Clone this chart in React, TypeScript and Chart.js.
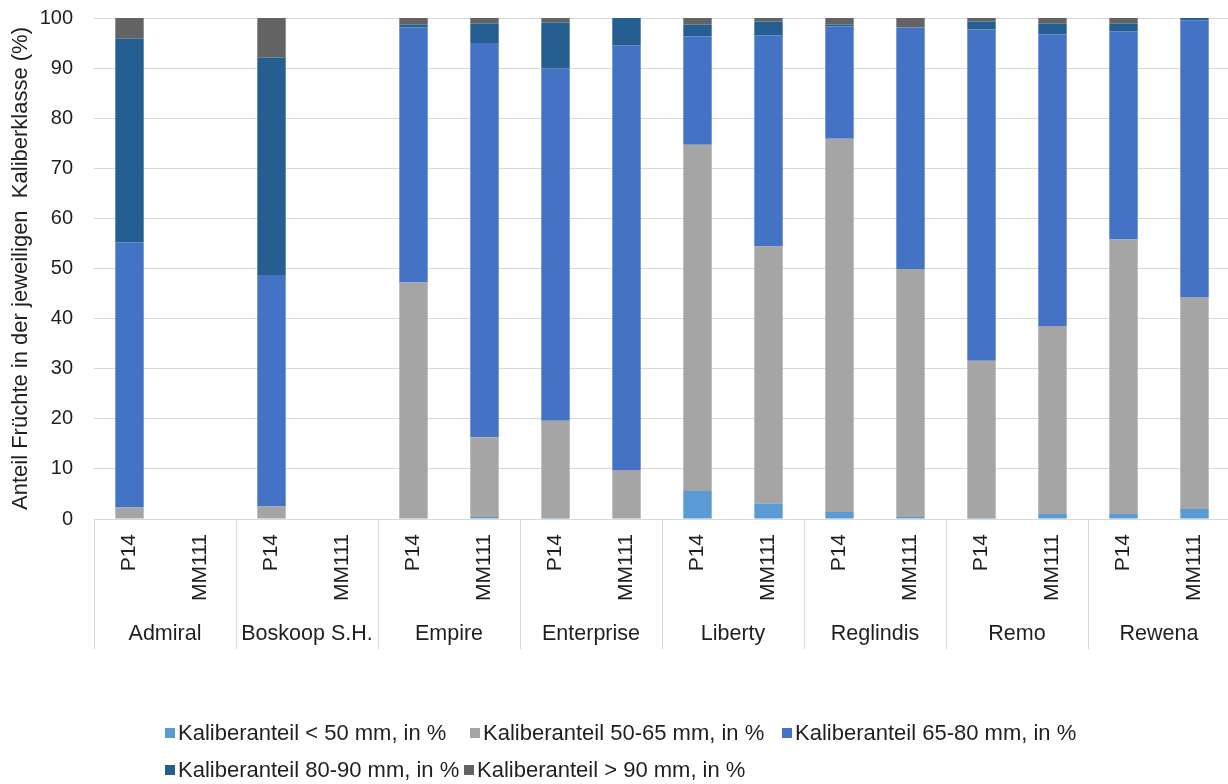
import React, { useEffect, useRef } from "react";
import { Chart, registerables } from "chart.js";

Chart.register(...registerables);

// ---- data ----
const varieties = ["Admiral", "Boskoop S.H.", "Empire", "Enterprise", "Liberty", "Reglindis", "Remo", "Rewena"];
const rootstocks = ["P14", "MM111"];
const categories = varieties.flatMap(() => rootstocks);

const seriesNames = [
  "Kaliberanteil < 50 mm, in %",
  "Kaliberanteil 50-65 mm, in %",
  "Kaliberanteil 65-80 mm, in %",
  "Kaliberanteil 80-90 mm, in %",
  "Kaliberanteil > 90 mm, in %",
];
const seriesColors = ["#5B9BD5", "#A5A5A5", "#4472C4", "#255E91", "#636363"];

// order: Admiral P14, Admiral MM111, Boskoop P14, Boskoop MM111, Empire P14, ...
const below50 = [0, null, 0, null, 0, 0.4, 0.2, 0, 5.6, 3.1, 1.4, 0.4, 0.2, 1.0, 1.0, 2.0];
const from50to65 = [2.3, null, 2.5, null, 47.2, 15.9, 19.4, 9.8, 69.1, 51.3, 74.5, 49.5, 31.4, 37.5, 54.8, 42.3];
const from65to80 = [52.9, null, 46.2, null, 50.9, 78.7, 70.3, 84.7, 21.6, 42.1, 22.4, 48.2, 66.1, 58.2, 41.5, 55.2];
const from80to90 = [40.7, null, 43.4, null, 0.6, 3.9, 9.2, 5.5, 2.4, 2.8, 0.4, 0, 1.6, 2.2, 1.6, 0.5];
const above90 = [4.1, null, 7.9, null, 1.3, 1.1, 0.9, 0, 1.3, 0.7, 1.3, 1.9, 0.7, 1.1, 1.1, 0];
const seriesValues = [below50, from50to65, from65to80, from80to90, above90];

const yTicks = [0, 10, 20, 30, 40, 50, 60, 70, 80, 90, 100];
const yTitle = "Anteil Früchte in der jeweiligen  Kaliberklasse (%)";

const FONT = '"Liberation Sans", Arial, Helvetica, sans-serif';
const TEXT = "#1f1f1f";
const GRID = "#d9d9d9";

const groupsAndLegendPlugin = {
  id: "groupsAndLegend",
  afterDraw(chart: any) {
    const ctx = chart.ctx;
    const x = chart.scales.x;
    const n = chart.data.labels.length;
    const catW = (x.right - x.left) / n;
    const per = rootstocks.length;
    ctx.save();
    // group separators
    ctx.strokeStyle = GRID;
    ctx.lineWidth = 1;
    for (let g = 0; g <= varieties.length; g++) {
      const px = Math.round(x.left + g * per * catW) + 0.5;
      ctx.beginPath();
      ctx.moveTo(px, x.top);
      ctx.lineTo(px, x.bottom);
      ctx.stroke();
    }
    // group labels
    ctx.fillStyle = TEXT;
    ctx.font = `21.5px ${FONT}`;
    ctx.textAlign = "center";
    ctx.textBaseline = "middle";
    varieties.forEach((v, g) => {
      ctx.fillText(v, x.left + (g * per + per / 2) * catW, x.bottom - 15);
    });
    // legend (two rows, left-flowing like the original)
    const rows = [
      { y: 733, items: [0, 1, 2], xs: [165, 470, 782] },
      { y: 770, items: [3, 4], xs: [165, 464] },
    ];
    ctx.font = `22px ${FONT}`;
    ctx.textAlign = "left";
    rows.forEach((row) => {
      row.items.forEach((idx, k) => {
        const ds = chart.data.datasets[idx];
        const sx = row.xs[k];
        ctx.fillStyle = ds.backgroundColor;
        ctx.fillRect(sx, row.y - 5, 10, 10);
        ctx.fillStyle = TEXT;
        ctx.fillText(ds.label, sx + 13, row.y + 1);
      });
    });
    ctx.restore();
  },
};

export default function App() {
  const canvasRef = useRef<HTMLCanvasElement | null>(null);

  useEffect(() => {
    const canvas = canvasRef.current;
    if (!canvas) return;
    Chart.defaults.font.family = FONT;
    const chart = new Chart(canvas, {
      type: "bar",
      data: {
        labels: categories,
        datasets: seriesNames.map((name, i) => ({
          label: name,
          data: seriesValues[i],
          backgroundColor: seriesColors[i],
          borderWidth: 0,
          barPercentage: 0.4,
          categoryPercentage: 1,
        })),
      },
      options: {
        responsive: false,
        animation: false,
        devicePixelRatio: 1,
        layout: { padding: { left: 0, right: 2, top: 18, bottom: 135 } },
        plugins: {
          legend: { display: false },
          tooltip: { enabled: false },
          title: { display: false },
        },
        scales: {
          x: {
            stacked: true,
            grid: { display: false, drawTicks: false },
            border: { display: true, color: GRID, width: 1 },
            ticks: {
              minRotation: 90,
              maxRotation: 90,
              autoSkip: false,
              padding: 15,
              color: TEXT,
              font: { size: 21, family: FONT },
            },
            afterFit: (scale: any) => {
              scale.height = 130;
              scale.paddingLeft = 0;
              scale.paddingRight = 0;
            },
          },
          y: {
            stacked: true,
            min: 0,
            max: 100,
            afterBuildTicks: (scale: any) => {
              scale.ticks = yTicks.map((v) => ({ value: v }));
            },
            grid: { color: GRID, lineWidth: 1, drawTicks: false },
            border: { display: false },
            ticks: {
              padding: 21,
              color: TEXT,
              font: { size: 20, family: FONT },
            },
            title: {
              display: true,
              text: yTitle,
              color: TEXT,
              font: { size: 22, family: FONT },
              padding: { top: 8, bottom: 0 },
            },
            afterFit: (scale: any) => {
              scale.width = 94;
              scale.paddingTop = 0;
              scale.paddingBottom = 0;
            },
          },
        },
      },
      plugins: [groupsAndLegendPlugin],
    });
    return () => chart.destroy();
  }, []);

  return (
    <div
      style={{
        position: "absolute",
        left: 0,
        top: 0,
        width: 1228,
        height: 784,
        overflow: "hidden",
        background: "#fff",
      }}
    >
      <canvas ref={canvasRef} width={1232} height={784} style={{ display: "block" }} />
    </div>
  );
}
